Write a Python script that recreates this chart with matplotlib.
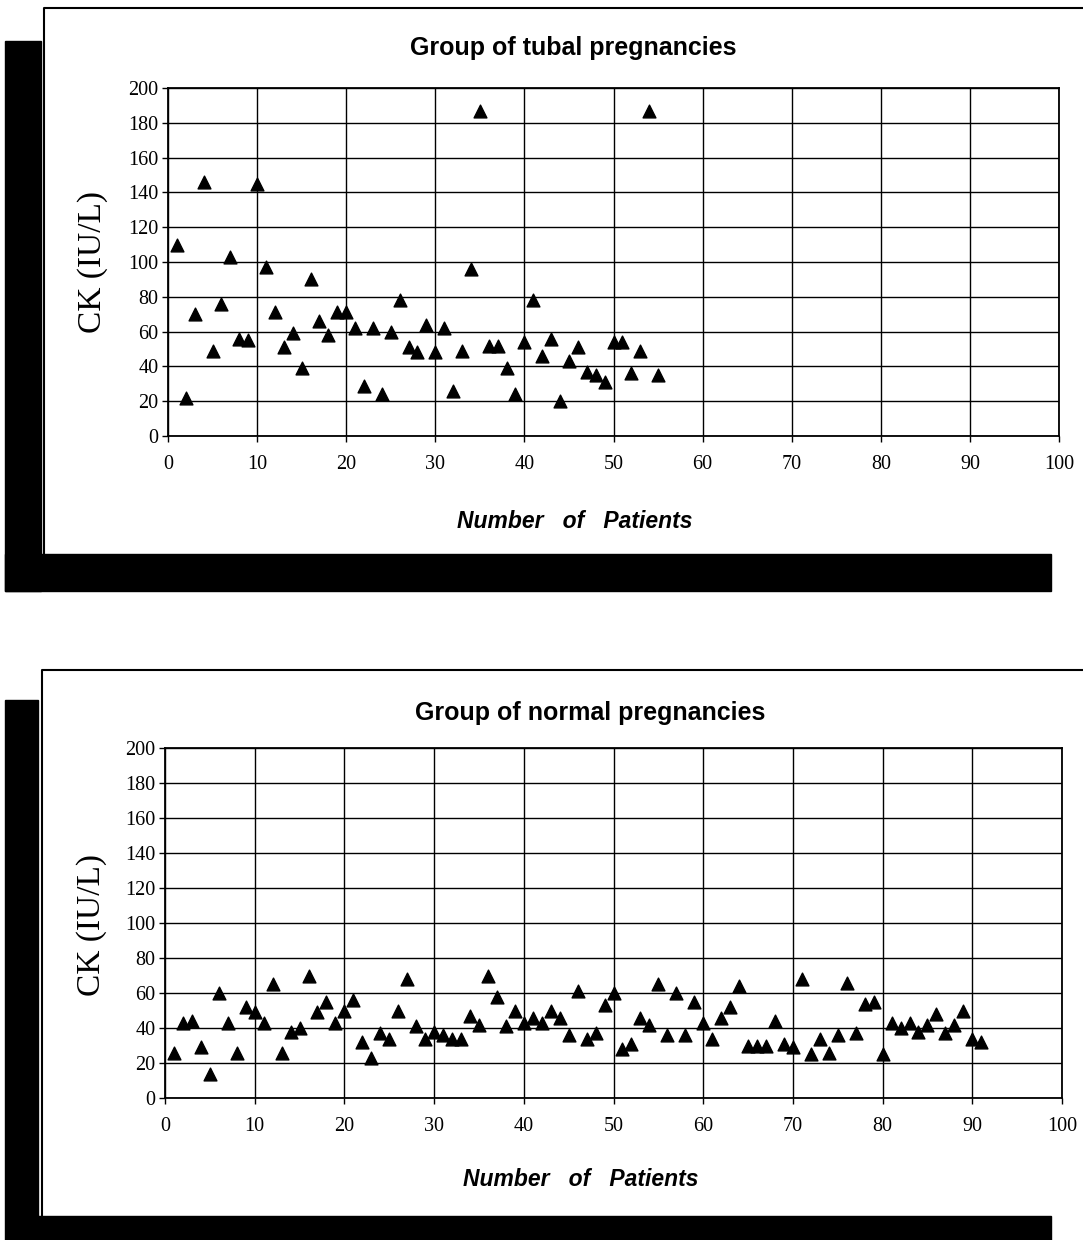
import matplotlib
matplotlib.use("Agg")
import matplotlib.pyplot as plt
from matplotlib.patches import Rectangle
from matplotlib.lines import Line2D

# ---------------- data ----------------
tubal_patient = list(range(1, 56))
tubal_ck = [110, 22, 70, 146, 49, 76, 103, 56, 55, 145,
            97, 71, 51, 59, 39, 90, 66, 58, 71, 71,
            62, 29, 62, 24, 60, 78, 51, 48, 64, 48,
            62, 26, 49, 96, 187, 52, 52, 39, 24, 54,
            78, 46, 56, 20, 43, 51, 37, 35, 31, 54,
            54, 36, 49, 187, 35]

normal_patient = list(range(1, 92))
normal_ck = [26, 43, 44, 29, 14, 60, 43, 26, 52, 49,
             43, 65, 26, 38, 40, 70, 49, 55, 43, 50,
             56, 32, 23, 37, 34, 50, 68, 41, 34, 38,
             36, 34, 34, 47, 42, 70, 58, 41, 50, 43,
             46, 43, 50, 46, 36, 61, 34, 37, 53, 60,
             28, 31, 46, 42, 65, 36, 60, 36, 55, 43,
             34, 46, 52, 64, 30, 30, 30, 44, 31, 29,
             68, 25, 34, 26, 36, 66, 37, 54, 55, 25,
             43, 40, 43, 38, 42, 48, 37, 42, 50, 34, 32]

x_ticks = [0, 10, 20, 30, 40, 50, 60, 70, 80, 90, 100]
y_ticks = [0, 20, 40, 60, 80, 100, 120, 140, 160, 180, 200]
titles = ["Group of tubal pregnancies", "Group of normal pregnancies"]
y_label = "CK (IU/L)"
x_label = "Number   of   Patients"

# ---------------- layout ----------------
W, H = 1083, 1240
fig = plt.figure(figsize=(W / 100, H / 100), dpi=100)
fig.patch.set_facecolor("white")


def fx(px):
    return px / W


def fy(py):
    return 1 - py / H


def rect(x0, y0, x1, y1, **kw):
    fig.patches.append(Rectangle((fx(x0), fy(y1)), fx(x1) - fx(x0), fy(y0) - fy(y1),
                                 transform=fig.transFigure, figure=fig, **kw))


def line(xs, ys, lw=1.5):
    fig.lines.append(Line2D([fx(x) for x in xs], [fy(y) for y in ys],
                            transform=fig.transFigure, figure=fig, color="black", lw=lw))


# shadows / frames
rect(5, 41, 41, 591, color="black", zorder=0)
rect(5, 554, 1051, 591, color="black", zorder=0)
line([44, 44, 1083], [554, 8, 8])
rect(5, 700, 38, 1240, color="black", zorder=0)
rect(38, 1216, 1051, 1240, color="black", zorder=0)
line([42, 42, 1083], [1216, 670, 670])

panels = [
    dict(box=(168, 88, 1059, 436), x=tubal_patient, y=tubal_ck,
         title_xy=(573, 48), ylab_xy=(93, 262), xlab_xy=(575, 521)),
    dict(box=(165, 748, 1062, 1098), x=normal_patient, y=normal_ck,
         title_xy=(590, 713), ylab_xy=(92, 925), xlab_xy=(581, 1180)),
]

serif = "Liberation Serif"
for i, p in enumerate(panels):
    x0, y0, x1, y1 = p["box"]
    ax = fig.add_axes([fx(x0), fy(y1), fx(x1) - fx(x0), fy(y0) - fy(y1)])
    ax.set_xlim(0, 100)
    ax.set_ylim(0, 200)
    ax.set_xticks(x_ticks)
    ax.set_yticks(y_ticks)
    ax.set_xticklabels([str(v) for v in x_ticks], fontfamily=serif, fontsize=14.5)
    ax.set_yticklabels([str(v) for v in y_ticks], fontfamily=serif, fontsize=14.5)
    ax.tick_params(direction="out", length=4, width=1, colors="black", pad=3)
    ax.tick_params(axis="x", pad=10)
    ax.grid(True, color="black", lw=1.0)
    ax.set_axisbelow(True)
    for s in ax.spines.values():
        s.set_linewidth(1.3)
        s.set_color("black")
    ax.scatter(p["x"], p["y"], marker="^", s=85, color="black", zorder=3, clip_on=False)

    tx, ty = p["title_xy"]
    fig.text(fx(tx), fy(ty), titles[i], ha="center", va="center",
             fontfamily="Liberation Sans", fontweight="bold", fontsize=18)
    lx, ly = p["ylab_xy"]
    fig.text(fx(lx), fy(ly), y_label, ha="center", va="center", rotation=90,
             fontfamily=serif, fontsize=24)
    bx, by = p["xlab_xy"]
    fig.text(fx(bx), fy(by), x_label, ha="center", va="center",
             fontfamily="Liberation Sans", fontweight="bold", fontstyle="italic", fontsize=16.5)

fig.savefig("out.png", dpi=100)
